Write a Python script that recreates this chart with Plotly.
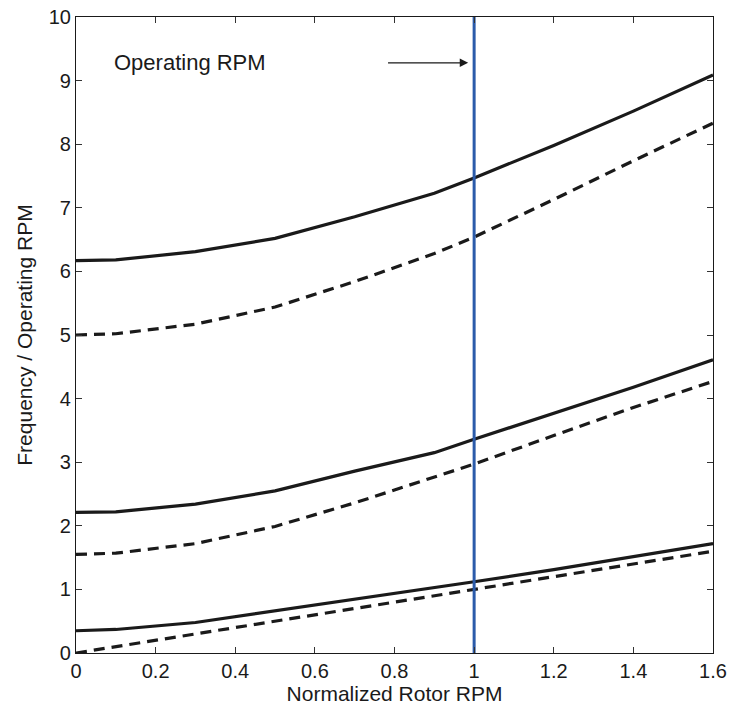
import plotly.graph_objects as go

# Normalized rotor speed (fraction of operating RPM)
rpm = [0.0, 0.1, 0.3, 0.5, 0.7, 0.9, 1.0, 1.2, 1.4, 1.6]

# Rotating-frame natural frequencies, normalized by operating RPM
mode3_solid = [6.17, 6.18, 6.31, 6.52, 6.86, 7.23, 7.47, 7.98, 8.52, 9.09]
mode3_dashed = [5.00, 5.02, 5.17, 5.44, 5.84, 6.28, 6.54, 7.13, 7.74, 8.33]
mode2_solid = [2.21, 2.22, 2.34, 2.55, 2.86, 3.15, 3.36, 3.77, 4.18, 4.61]
mode2_dashed = [1.55, 1.57, 1.72, 1.99, 2.36, 2.76, 2.97, 3.42, 3.86, 4.27]
mode1_solid = [0.35, 0.37, 0.48, 0.66, 0.85, 1.03, 1.12, 1.31, 1.51, 1.72]
mode1_dashed = [0.0, 0.1, 0.3, 0.5, 0.7, 0.9, 1.0, 1.2, 1.4, 1.6]

operating_rpm = 1.0

x_ticks = [0, 0.2, 0.4, 0.6, 0.8, 1, 1.2, 1.4, 1.6]
x_tick_text = ["0", "0.2", "0.4", "0.6", "0.8", "1", "1.2", "1.4", "1.6"]
y_ticks = list(range(0, 11))

FONT = "Liberation Sans, Arial, Helvetica, sans-serif"
LINE_COLOR = "#1a1a1a"

fig = go.Figure()

series = [
    (mode3_solid, "solid"),
    (mode3_dashed, "dash"),
    (mode2_solid, "solid"),
    (mode2_dashed, "dash"),
    (mode1_solid, "solid"),
    (mode1_dashed, "dash"),
]
for ys, style in series:
    fig.add_trace(go.Scatter(
        x=rpm, y=ys, mode="lines",
        line=dict(color=LINE_COLOR, width=3.2,
                  dash="solid" if style == "solid" else "11px,7px"),
        showlegend=False, hoverinfo="skip",
    ))

# Operating speed marker
fig.add_trace(go.Scatter(
    x=[operating_rpm, operating_rpm], y=[0, 10], mode="lines",
    line=dict(color="#2B5BAA", width=3), showlegend=False, hoverinfo="skip",
))

fig.add_annotation(
    x=0.09, y=9.28, xref="x", yref="y", text="Operating RPM",
    showarrow=False, xanchor="left", yanchor="middle",
    font=dict(family=FONT, size=22, color="#1a1a1a"),
)
fig.add_annotation(
    x=0.985, y=9.28, xref="x", yref="y",
    ax=0.78, ay=9.28, axref="x", ayref="y",
    text="", showarrow=True, arrowhead=2, arrowsize=1.4, arrowwidth=1.2,
    arrowcolor="#1a1a1a",
)

axis_common = dict(
    showgrid=False, zeroline=False, showline=True, linecolor="#1a1a1a",
    linewidth=1.2, mirror="ticks", ticks="inside", ticklen=6,
    tickcolor="#333333", tickwidth=1, automargin=False,
    tickfont=dict(family=FONT, size=20, color="#1a1a1a"),
)

fig.update_xaxes(
    range=[0, 1.6], tickvals=x_ticks, ticktext=x_tick_text,
    title=dict(text="Normalized Rotor RPM", standoff=4,
               font=dict(family=FONT, size=21, color="#1a1a1a")),
    **axis_common,
)
fig.update_yaxes(
    range=[0, 10], tickvals=y_ticks,
    title=dict(text="Frequency / Operating RPM", standoff=10,
               font=dict(family=FONT, size=21, color="#1a1a1a")),
    **axis_common,
)

fig.update_layout(
    width=730, height=713,
    margin=dict(l=76, r=17, t=17, b=60),
    paper_bgcolor="white", plot_bgcolor="white",
)

fig.write_html("out.html")
